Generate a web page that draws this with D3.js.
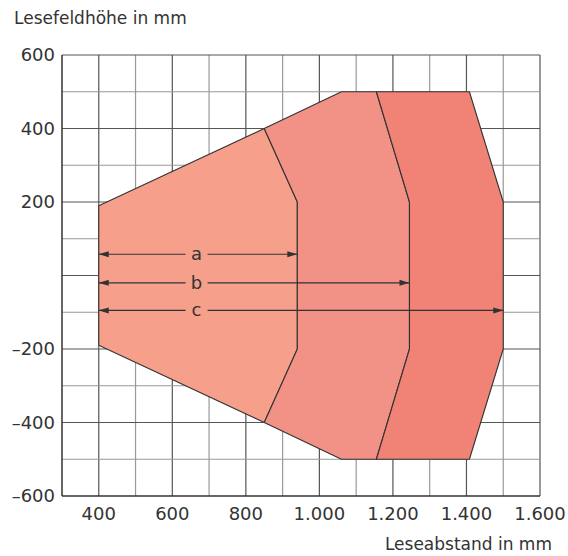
<!DOCTYPE html>
<html>
<head>
<meta charset="utf-8">
<script src="https://d3js.org/d3.v7.min.js"></script>
<style>
  body { margin: 0; background: #fff; }
  text { font-family: "DejaVu Sans", "Liberation Sans", sans-serif; fill: #333; }
</style>
</head>
<body>
<div id="chart-area"></div>
<script>
var width = 568;
var height = 556;
var margin = {top: 55, right: 28, bottom: 60, left: 62};
var w = width - margin.left - margin.right;
var h = height - margin.top - margin.bottom;

// reading zones (x = distance, y = height), in mm
var zoneA = [[400, 190], [850, 400], [940, 200], [940, -200], [850, -400], [400, -190]];
var zoneB = [[850, 400], [1060, 500], [1155, 500], [1245, 200], [1245, -200], [1155, -500], [1060, -500], [850, -400], [940, -200], [940, 200]];
var zoneC = [[1155, 500], [1408, 500], [1500, 200], [1500, -200], [1408, -500], [1155, -500], [1245, -200], [1245, 200]];
var zoneColors = ["#f6a08c", "#f29186", "#f08276"];

// dimension arrows
var arrowNames = ["a", "b", "c"];
var arrowEnds = [940, 1245, 1500];
var arrowY = [58, -20, -95];
var arrowStart = 400;

var xTicks = [400, 600, 800, 1000, 1200, 1400, 1600];
var yTicks = [-600, -400, -200, 200, 400, 600];

var svg = d3.select("#chart-area").append("svg")
    .attr("width", width)
    .attr("height", height);

var defs = svg.append("defs");
defs.append("marker")
    .attr("id", "arr")
    .attr("viewBox", "0 0 10 10")
    .attr("refX", 10).attr("refY", 5)
    .attr("markerWidth", 10).attr("markerHeight", 10)
    .attr("markerUnits", "userSpaceOnUse")
    .attr("orient", "auto-start-reverse")
    .append("path")
    .attr("d", "M0,2 L10,5 L0,8 Z")
    .attr("fill", "#333");

var g = svg.append("g")
    .attr("transform", "translate(" + margin.left + ", " + margin.top + ")");

var x = d3.scaleLinear().domain([300, 1600]).range([0, w]);
var y = d3.scaleLinear().domain([-600, 600]).range([h, 0]);

// grid
d3.range(400, 1601, 100).forEach((v) => {
    g.append("line")
        .attr("x1", x(v)).attr("x2", x(v)).attr("y1", 0).attr("y2", h)
        .attr("stroke", v % 200 == 0 ? "#555" : "#999")
        .attr("stroke-width", 1.2);
});
d3.range(-500, 601, 100).forEach((v) => {
    g.append("line")
        .attr("x1", 0).attr("x2", w).attr("y1", y(v)).attr("y2", y(v))
        .attr("stroke", v % 200 == 0 ? "#555" : "#999")
        .attr("stroke-width", 1.2);
});

// zones
var line = d3.line().x((d) => x(d[0])).y((d) => y(d[1]));
[zoneA, zoneB, zoneC].forEach((z, i) => {
    g.append("path")
        .attr("d", line(z) + "Z")
        .attr("fill", zoneColors[i])
        .attr("stroke", "#333")
        .attr("stroke-width", 1.1)
        .attr("stroke-linejoin", "round");
});

// arrows with labels
var labelX = 666;
arrowNames.forEach((n, i) => {
    var yy = y(arrowY[i]);
    g.append("line")
        .attr("x1", x(labelX) - 11).attr("x2", x(arrowStart))
        .attr("y1", yy).attr("y2", yy)
        .attr("stroke", "#333").attr("stroke-width", 1.1)
        .attr("marker-end", "url(#arr)");
    g.append("line")
        .attr("x1", x(labelX) + 11).attr("x2", x(arrowEnds[i]))
        .attr("y1", yy).attr("y2", yy)
        .attr("stroke", "#333").attr("stroke-width", 1.1)
        .attr("marker-end", "url(#arr)");
    g.append("text")
        .attr("x", x(labelX))
        .attr("y", yy + 6)
        .attr("text-anchor", "middle")
        .attr("font-size", "18px")
        .text(n);
});

// axes frame
g.append("line").attr("x1", 0).attr("x2", 0).attr("y1", 0).attr("y2", h)
    .attr("stroke", "#333").attr("stroke-width", 1.5);
g.append("line").attr("x1", 0).attr("x2", w).attr("y1", h).attr("y2", h)
    .attr("stroke", "#333").attr("stroke-width", 1.5);

var fmt = (d) => {
    var s = Math.abs(d) >= 1000 ? d3.format(",")(Math.abs(d)).replace(",", ".") : String(Math.abs(d));
    return (d < 0 ? "\u2013" : "") + s;
};

g.selectAll(".xt").data(xTicks).enter().append("text")
    .attr("x", (d) => x(d))
    .attr("y", h + 24)
    .attr("text-anchor", "middle")
    .attr("font-size", "18px")
    .text(fmt);

g.selectAll(".yt").data(yTicks).enter().append("text")
    .attr("x", -7)
    .attr("y", (d) => y(d) + 6)
    .attr("text-anchor", "end")
    .attr("font-size", "18px")
    .text(fmt);

svg.append("text")
    .attr("x", 14)
    .attr("y", 24)
    .attr("font-size", "17px")
    .text("Lesefeldhöhe in mm");

svg.append("text")
    .attr("x", 552)
    .attr("y", 550)
    .attr("text-anchor", "end")
    .attr("font-size", "17px")
    .text("Leseabstand in mm");
</script>
</body>
</html>
